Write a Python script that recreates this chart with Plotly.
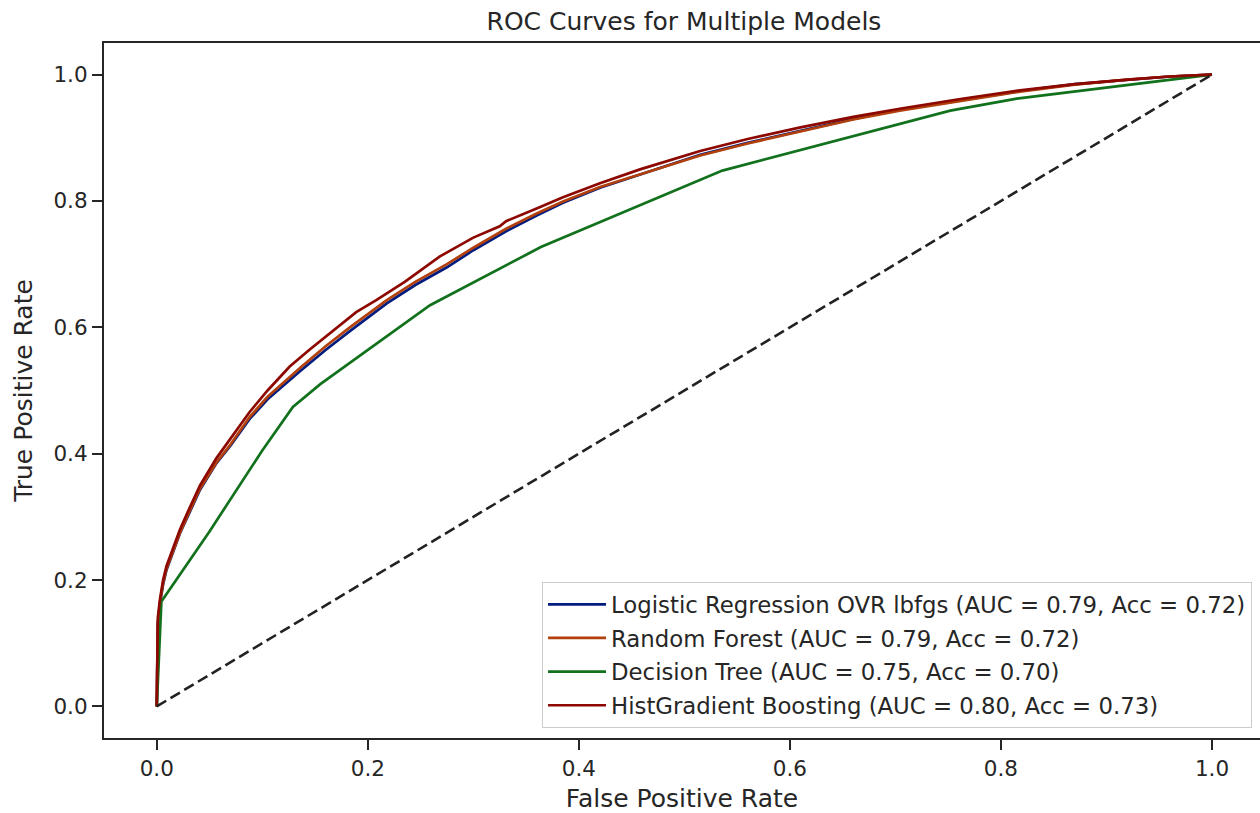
import plotly.graph_objects as go

# ---- data ----
lr_fpr = [0, 0.0003, 0.001, 0.003, 0.006, 0.0092, 0.0155, 0.022, 0.03, 0.041, 0.0566, 0.07, 0.088, 0.105,
          0.136, 0.16, 0.183, 0.218, 0.245, 0.275, 0.30, 0.331, 0.36, 0.385, 0.42, 0.458, 0.515, 0.56,
          0.609, 0.66, 0.704, 0.76, 0.818, 0.87, 0.92, 0.96, 1.0]
lr_tpr = [0, 0.09, 0.13, 0.163, 0.193, 0.216, 0.245, 0.274, 0.303, 0.343, 0.385, 0.413, 0.455, 0.486,
          0.531, 0.564, 0.594, 0.638, 0.667, 0.695, 0.722, 0.752, 0.777, 0.797, 0.821, 0.842, 0.873, 0.892,
          0.911, 0.930, 0.944, 0.959, 0.974, 0.985, 0.992, 0.997, 1.0]

rf_fpr = [0, 0.0003, 0.001, 0.003, 0.006, 0.0092, 0.0155, 0.022, 0.03, 0.041, 0.0566, 0.07, 0.088, 0.105,
          0.136, 0.16, 0.183, 0.218, 0.245, 0.275, 0.30, 0.331, 0.36, 0.385, 0.42, 0.458, 0.515, 0.56,
          0.609, 0.66, 0.704, 0.76, 0.818, 0.87, 0.92, 0.96, 1.0]
rf_tpr = [0, 0.09, 0.13, 0.165, 0.195, 0.218, 0.246, 0.275, 0.305, 0.345, 0.386, 0.415, 0.458, 0.490,
          0.536, 0.570, 0.600, 0.643, 0.672, 0.700, 0.726, 0.756, 0.780, 0.799, 0.822, 0.842, 0.872, 0.891,
          0.910, 0.929, 0.943, 0.958, 0.973, 0.984, 0.992, 0.997, 1.0]

dt_fpr = [0, 0.0044, 0.05, 0.10, 0.129, 0.155, 0.259, 0.364, 0.536, 0.752, 0.815, 1.0]
dt_tpr = [0, 0.166, 0.277, 0.405, 0.474, 0.510, 0.635, 0.727, 0.848, 0.943, 0.962, 1.0]

hgb_fpr = [0, 0.0003, 0.001, 0.003, 0.006, 0.0092, 0.0155, 0.022, 0.03, 0.041, 0.0566, 0.07, 0.088, 0.105,
           0.126, 0.145, 0.167, 0.189, 0.208, 0.235, 0.268, 0.30, 0.325, 0.331, 0.36, 0.385, 0.42, 0.458,
           0.515, 0.56, 0.609, 0.66, 0.704, 0.76, 0.818, 0.87, 0.92, 0.96, 1.0]
hgb_tpr = [0, 0.10, 0.14, 0.169, 0.20, 0.222, 0.25, 0.28, 0.31, 0.35, 0.393, 0.425, 0.466, 0.50,
           0.538, 0.565, 0.595, 0.624, 0.643, 0.672, 0.712, 0.742, 0.760, 0.768, 0.788, 0.806, 0.828, 0.850,
           0.879, 0.898, 0.916, 0.933, 0.946, 0.961, 0.975, 0.985, 0.992, 0.997, 1.0]

chance = [0, 1]

names = [
    "Logistic Regression OVR lbfgs (AUC = 0.79, Acc = 0.72)",
    "Random Forest (AUC = 0.79, Acc = 0.72)",
    "Decision Tree (AUC = 0.75, Acc = 0.70)",
    "HistGradient Boosting (AUC = 0.80, Acc = 0.73)",
]
colors = ["#001c7f", "#b1400d", "#12711c", "#8c0800"]
tick_vals = [0.0, 0.2, 0.4, 0.6, 0.8, 1.0]
tick_text = ["0.0", "0.2", "0.4", "0.6", "0.8", "1.0"]

TXT = "#262626"
FONT = "DejaVu Sans"

fig = go.Figure()
series = [(lr_fpr, lr_tpr), (rf_fpr, rf_tpr), (dt_fpr, dt_tpr), (hgb_fpr, hgb_tpr)]
for i, ((fx, ty), nm, c) in enumerate(zip(series, names, colors)):
    fig.add_trace(go.Scatter(x=fx, y=ty, mode="lines", name=nm, legendgroup=f"g{i}",
                             line=dict(color=c, width=2.7)))
fig.add_trace(go.Scatter(x=chance, y=chance, mode="lines", showlegend=False,
                         line=dict(color="#222222", width=2.6, dash="11px,5px")))

fig.update_layout(
    width=1260, height=813,
    margin=dict(l=104, r=0, t=43, b=75),
    paper_bgcolor="white", plot_bgcolor="white",
    font=dict(family=FONT, color=TXT, size=22),
    title=dict(text="ROC Curves for Multiple Models", x=0.5017, xanchor="center", xref="paper",
               y=1 - 21 / 813, yanchor="middle", yref="container",
               font=dict(size=25, color=TXT, family=FONT)),
    showlegend=True,
    legend=dict(x=0.9931, y=0.0144, xanchor="right", yanchor="bottom",
                bgcolor="rgba(255,255,255,0.8)", bordercolor="#cccccc", borderwidth=1,
                itemwidth=58, tracegroupgap=1, traceorder="grouped",
                font=dict(size=22.8, color=TXT, family=FONT)),
)
fig.update_xaxes(range=[-0.05, 1.0455], tickvals=tick_vals, ticktext=tick_text,
                 showgrid=False, zeroline=False, showline=True, linecolor=TXT, linewidth=2.2,
                 mirror=True, ticks="outside", ticklen=10, tickwidth=2.2, tickcolor=TXT,
                 tickfont=dict(size=21.5, color=TXT),
                 title=dict(text="False Positive Rate", font=dict(size=25, color=TXT), standoff=12))
fig.update_yaxes(range=[-0.05, 1.05], tickvals=tick_vals, ticktext=tick_text,
                 showgrid=False, zeroline=False, showline=True, linecolor=TXT, linewidth=2.2,
                 ticks="outside", ticklen=10, tickwidth=2.2, tickcolor=TXT,
                 tickfont=dict(size=21.5, color=TXT),
                 title=dict(text="True Positive Rate", font=dict(size=25, color=TXT), standoff=14))

fig.write_html("out.html")
